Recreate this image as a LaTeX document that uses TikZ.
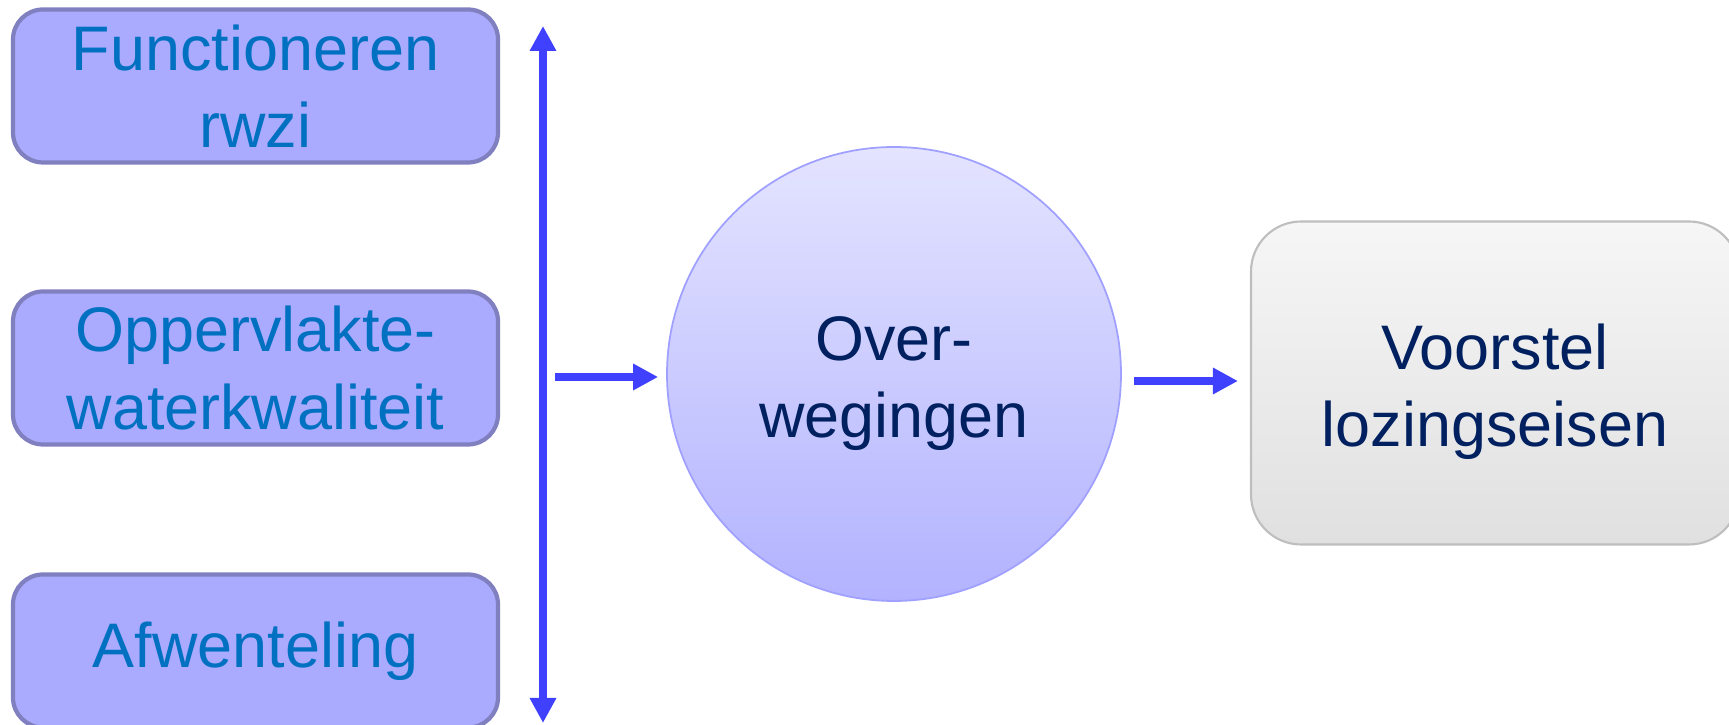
\documentclass[tikz,border=0pt]{standalone}
\usepackage{fontspec}
\setmainfont{Liberation Sans}
\usetikzlibrary{arrows.meta}

\definecolor{boxfill}{RGB}{170,170,255}
\definecolor{boxline}{RGB}{128,128,192}
\definecolor{boxtext}{RGB}{0,112,192}
\definecolor{arrowblue}{RGB}{64,64,255}
\definecolor{navy}{RGB}{0,32,96}
\definecolor{circtop}{RGB}{228,228,255}
\definecolor{circbot}{RGB}{178,178,255}
\definecolor{circline}{RGB}{160,160,255}
\definecolor{greytop}{RGB}{246,246,246}
\definecolor{greybot}{RGB}{224,224,224}
\definecolor{greyline}{RGB}{190,190,190}

\begin{document}
\begin{tikzpicture}[
  big/.style={align=center, inner sep=0pt, font=\fontsize{17.9}{22}\selectfont},
  factor/.style={big, draw=boxline, line width=1.2pt, fill=boxfill, text=boxtext,
    rounded corners=0.3cm, minimum width=4.85cm, minimum height=1.53cm},
  arr/.style={arrowblue, line width=0.08cm, -{Triangle[width=0.25cm,length=0.25cm]}}
]
  \useasboundingbox (0,0) rectangle (17.29,7.25);

  % left column
  \node[factor] (rwzi) at (2.555,6.39) {Functioneren\\rwzi};
  \node[factor] (owk) at (2.555,3.57) {Oppervlakte-\\waterkwaliteit};
  \node[factor] (afw) at (2.555,0.74) {Afwenteling};

  \coordinate (top) at (5.43,6.99);
  \coordinate (bot) at (5.43,0.02);
  \draw[arr, {Triangle[width=0.25cm,length=0.25cm]}-{Triangle[width=0.25cm,length=0.25cm]}] (top) -- (bot);

  % middle and right
  \node[big, circle, minimum size=4.54cm, draw=circline, line width=0.5pt,
    top color=circtop, bottom color=circbot, text=navy, text height=1.40cm] (ov) at (8.94,3.51) {Over-\\wegingen};
  \node[big, rectangle, rounded corners=0.5cm, minimum width=4.88cm, minimum height=3.23cm,
    draw=greyline, line width=0.6pt, top color=greytop, bottom color=greybot,
    text=navy, text height=1.40cm] (vl) at (14.95,3.42) {Voorstel\\lozingseisen};

  \coordinate (in) at (5.55,3.48);
  \draw[arr, shorten >=0.08cm] (in) -- (in -| ov.west);
  \coordinate (out) at (11.34,3.44);
  \draw[arr, shorten >=0.12cm] (out) -- (out -| vl.west);
\end{tikzpicture}
\end{document}
